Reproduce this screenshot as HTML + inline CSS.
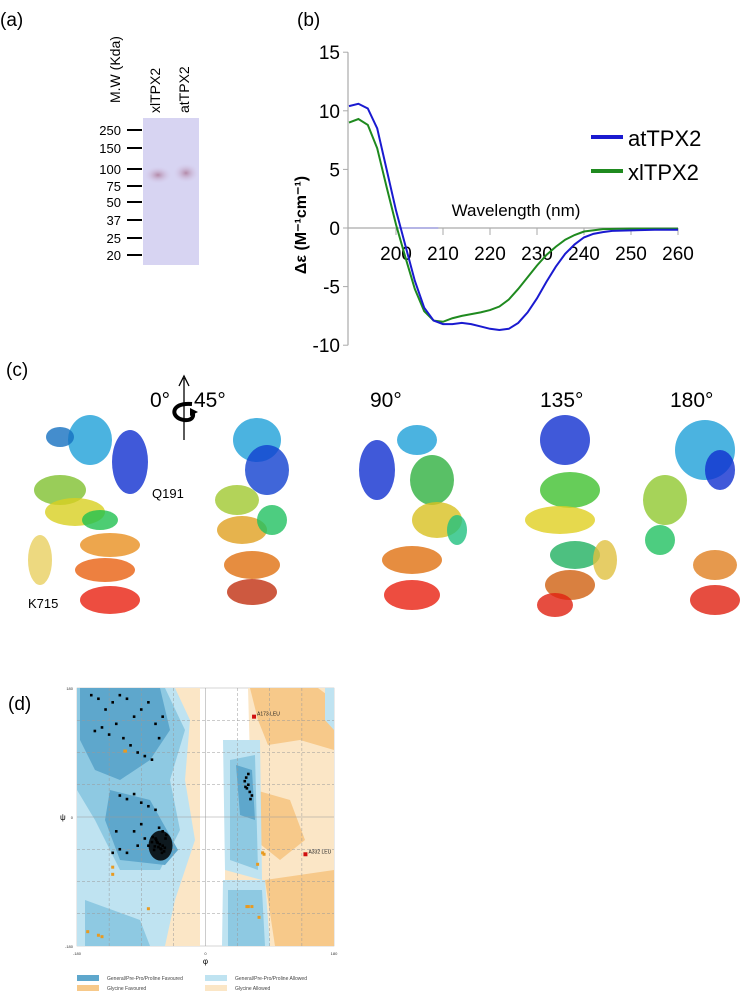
<!DOCTYPE html>
<html><head><meta charset="utf-8">
<style>
html,body{margin:0;padding:0;background:#fff;}
body{width:749px;height:992px;position:relative;overflow:hidden;font-family:"Liberation Sans",sans-serif;}
svg{position:absolute;left:0;top:0;}
</style></head>
<body>
<svg id="fig" width="749" height="992" viewBox="0 0 749 992" xmlns="http://www.w3.org/2000/svg">
  <text x="0" y="26" font-size="19">(a)</text>
  <text x="297" y="26" font-size="19">(b)</text>
  <text x="6" y="376" font-size="19">(c)</text>
  <text x="8" y="710" font-size="19">(d)</text>

  <g id="gel">
    <defs>
      <radialGradient id="band" cx="50%" cy="50%" r="50%">
        <stop offset="0%" stop-color="#b48aa8"/><stop offset="100%" stop-color="#d8d0f0" stop-opacity="0"/>
      </radialGradient>
    </defs>
    <rect x="143" y="118" width="56" height="147" fill="#d7d4f2"/>
    <ellipse cx="158" cy="175" rx="14" ry="9" fill="url(#band)"/>
    <ellipse cx="186" cy="173" rx="13" ry="10" fill="url(#band)"/>
    <text transform="translate(120,103) rotate(-90)" font-size="14">M.W (Kda)</text>
    <text transform="translate(160,113) rotate(-90)" font-size="14">xlTPX2</text>
    <text transform="translate(189,113) rotate(-90)" font-size="14">atTPX2</text>
    <g id="markers" font-size="13" text-anchor="end"></g>
  </g>

  <g id="cd"></g>

  <g id="struct">
    <g id="views"></g>
    <text x="150" y="407" font-size="21">0°</text>
    <text x="194" y="407" font-size="21">45°</text>
    <text x="370" y="407" font-size="21">90°</text>
    <text x="540" y="407" font-size="21">135°</text>
    <text x="670" y="407" font-size="21">180°</text>
    <g>
      <line x1="184" y1="440" x2="184" y2="378" stroke="#000" stroke-width="1.3"/>
      <path d="M179,386 L184,376 L189,386" fill="none" stroke="#000" stroke-width="1.3"/>
      <path d="M192,404 C170,402 170,418 184,420 C192,421 195,416 192,412" fill="none" stroke="#000" stroke-width="4"/>
      <path d="M190,408 L198,412 L190,416 Z" fill="#000"/>
    </g>
    <text x="152" y="498" font-size="13">Q191</text>
    <text x="28" y="608" font-size="13">K715</text>
  </g>

  <g id="rama"></g>
</svg>
<script>
const NS="http://www.w3.org/2000/svg";
function mk(tag,attrs,parent){const e=document.createElementNS(NS,tag);for(const k in attrs)e.setAttribute(k,attrs[k]);parent.appendChild(e);return e;}

/* ---------- Panel a markers ---------- */
const markerLabels=["250","150","100","75","50","37","25","20"];
const markerY=[130,148,169,186,202,220,238,255];
const mg=document.getElementById('markers');
markerLabels.forEach((m,i)=>{
  const t=mk('text',{x:121,y:markerY[i]+5},mg);t.textContent=m;
  
  
  const l=mk('line',{x1:127,x2:142,y1:markerY[i],y2:markerY[i],stroke:'#000','stroke-width':2},mg);
  
  
});

/* ---------- Panel b: CD data ---------- */
const wlAt=[190,192,194,196,198,200,201,202,204,206,208,210,212,214,216,218,220,222,224,226,228,230,232,234,236,238,240,242,244,246,250,255,260];
const cdAt=[10.4,10.6,10.2,8.5,5.0,1.5,0,-1.5,-4.5,-6.8,-7.9,-8.2,-8.2,-8.1,-8.2,-8.4,-8.6,-8.7,-8.6,-8.1,-7.2,-6.0,-4.6,-3.3,-2.2,-1.4,-0.8,-0.5,-0.35,-0.25,-0.2,-0.15,-0.15];
const wlXl=[190,192,194,196,198,200,202,204,206,208,210,212,214,216,218,220,222,224,226,228,230,232,234,236,238,240,244,250,260];
const cdXl=[9.0,9.3,8.8,6.8,3.5,0.3,-2.5,-5.2,-7.1,-7.9,-8.0,-7.7,-7.5,-7.35,-7.2,-7.0,-6.7,-6.1,-5.2,-4.2,-3.2,-2.3,-1.6,-1.0,-0.6,-0.3,-0.1,-0.05,-0.05];
const xTicks=[200,210,220,230,240,250,260];
const yTicks=[15,10,5,0,-5,-10];
const seriesNames=["atTPX2","xlTPX2"];

const X=w=>349+(w-190)*4.7;
const Y=v=>228-v*11.72;
const cd=document.getElementById('cd');
const yax=mk('line',{x1:348,x2:348,y1:Y(15),y2:Y(-10),stroke:'#aaa','stroke-width':1.2},cd);


const xax=mk('line',{x1:348,x2:X(260),y1:Y(0),y2:Y(0),stroke:'#aaa','stroke-width':1.2},cd);


const zl=mk('line',{x1:X(200),x2:X(209),y1:Y(0),y2:Y(0),stroke:'#8080e0','stroke-width':1},cd);


yTicks.forEach(v=>{
  const l=mk('line',{x1:343,x2:348,y1:Y(v),y2:Y(v),stroke:'#aaa'},cd);
  
  
  const t=mk('text',{x:340,y:Y(v)+7,'font-size':19,'text-anchor':'end'},cd);t.textContent=v;
  
  
});
xTicks.forEach(w=>{
  const l=mk('line',{x1:X(w),x2:X(w),y1:Y(0),y2:Y(0)+7,stroke:'#aaa'},cd);
  
  
  const t=mk('text',{x:X(w),y:Y(0)+32,'font-size':19,'text-anchor':'middle'},cd);t.textContent=w;
  
  
});
const xt=mk('text',{x:516,y:216,'font-size':17,'text-anchor':'middle'},cd);xt.textContent='Wavelength (nm)';


const yt=mk('text',{transform:'translate(306,225) rotate(-90)','font-size':16,'font-weight':'bold','text-anchor':'middle'},cd);
yt.textContent='Δε (M⁻¹cm⁻¹)';


function drawSeries(ws,vs,col,name){
  const p=mk('polyline',{points:ws.map((w,i)=>X(w)+','+Y(vs[i])).join(' '),fill:'none',stroke:col,'stroke-width':2},cd);
  
  
}
drawSeries(wlXl,cdXl,'#1f8a1f','series-xltpx2');
drawSeries(wlAt,cdAt,'#1a1ad0','series-attpx2');
const legCols=['#1a1ad0','#1f8a1f'];
seriesNames.forEach((n,i)=>{
  const y=137+i*34;
  const l=mk('line',{x1:591,x2:623,y1:y,y2:y,stroke:legCols[i],'stroke-width':4},cd);
  
  
  const t=mk('text',{x:628,y:y+9,'font-size':22},cd);t.textContent=n;
  
  
});

/* ---------- Panel c: schematic structure views ---------- */
const viewCenters=[95,262,412,570,690];
const views=document.getElementById('views');
const blobs=[
 [[-5,440,22,25,'#1ea0d8'],[35,462,18,32,'#1030d0'],[-35,437,14,10,'#1570c0'],[-35,490,26,15,'#80c030'],[-20,512,30,14,'#d8d020'],[5,520,18,10,'#20c050'],[15,545,30,12,'#e89020'],[10,570,30,12,'#e86010'],[15,600,30,14,'#e82010'],[-55,560,12,25,'#e8d060']],
 [[-5,440,24,22,'#1ea0d8'],[5,470,22,25,'#1040d0'],[-25,500,22,15,'#a0c830'],[-20,530,25,14,'#e0a020'],[-10,565,28,14,'#e07010'],[-10,592,25,13,'#c03010'],[10,520,15,15,'#20c060']],
 [[-35,470,18,30,'#1030d0'],[5,440,20,15,'#1ea0d8'],[20,480,22,25,'#30b040'],[25,520,25,18,'#d8c020'],[0,560,30,14,'#e07010'],[0,595,28,15,'#e82010'],[45,530,10,15,'#20c080']],
 [[-5,440,25,25,'#1030d0'],[0,490,30,18,'#40c030'],[-10,520,35,14,'#e0d020'],[5,555,25,14,'#20b060'],[0,585,25,15,'#d06010'],[-15,605,18,12,'#e02010'],[35,560,12,20,'#e0c040']],
 [[15,450,30,30,'#1ea0d8'],[30,470,15,20,'#1030d0'],[-25,500,22,25,'#90c830'],[-30,540,15,15,'#20c060'],[25,565,22,15,'#e08020'],[25,600,25,15,'#e02010']]
];
viewCenters.forEach((cx,vi)=>{
  const g=mk('g',{},views);
  
  
  blobs[vi].forEach(b=>{
    mk('ellipse',{cx:cx+b[0],cy:b[1],rx:b[2],ry:b[3],fill:b[4],'fill-opacity':0.8},g);
  });
});

/* ---------- Panel d: Ramachandran ---------- */
const favPhi=[-160,-150,-140,-130,-120,-110,-100,-90,-80,-70,-60,-155,-145,-135,-125,-115,-105,-95,-85,-75,-65,-120,-110,-100,-90,-80,-70,-65,-60,-55,-70,-75,-80,-85,-90,-95,-100,-110,-120,-60,-62,-64,-66,-68,-58,-56,-72,-74,-63,-67,-61,-69,-57,-71,-130,-125,55,60,58,62,65,57,63,60,56];
const favPsi=[170,165,150,160,170,165,140,150,160,130,140,120,125,115,130,110,100,90,85,80,110,30,25,32,20,15,10,-15,-20,-25,-30,-35,-40,-30,-10,-40,-20,-50,-45,-40,-45,-38,-42,-35,-48,-30,-46,-28,-44,-36,-50,-32,-43,-41,-50,-20,50,45,40,35,30,55,25,60,42];
const glyPhi=[-112,-113,-130,-130,-80,-165,-150,-145,80,82,73,60,65,58,75];
const glyPsi=[92,92,-70,-80,-128,-160,-165,-167,-50,-52,-66,-125,-125,-125,-140];
const outPhi=[68,140];
const outPsi=[140,-52];
const outLabels=["A173 LEU","A332 LEU"];
const PX=p=>77+(p+180)*257/360;
const PY=s=>946-(s+180)*258/360;
const rama=document.getElementById('rama');
const bg=mk('rect',{x:77,y:688,width:257,height:258,fill:'#fff',stroke:'#aaa','stroke-width':0.5},rama);


const regions=[
 ['#fbe6c6','M160,688 L200,688 L200,946 L150,946 Z M248,688 L334,688 L334,946 L225,946 L225,860 L250,840 L250,760 Z'],
 ['#f7c98a','M250,688 L318,688 L334,700 L334,750 L300,740 L268,745 L258,720 Z M255,790 L290,800 L305,840 L280,860 L255,840 Z M265,880 L334,870 L334,946 L275,946 Z M77,880 L110,890 L120,946 L77,946 Z'],
 ['#bfe3f1','M77,688 L175,688 L190,720 L185,780 L195,840 L175,900 L165,946 L77,946 Z M223,740 L260,740 L262,880 L225,870 Z M223,880 L265,880 L270,946 L222,946 Z M325,688 L334,688 L334,730 L325,720 Z'],
 ['#8ec9e2','M77,688 L165,688 L185,730 L170,780 L180,830 L160,870 L120,870 L95,820 L77,790 Z M230,760 L255,755 L258,870 L230,860 Z M228,890 L262,890 L265,946 L228,946 Z M85,900 L140,920 L150,946 L85,946 Z'],
 ['#5ea7cc','M80,688 L160,688 L170,730 L150,760 L120,780 L95,770 L80,740 Z M110,790 L150,800 L178,850 L165,865 L120,860 L105,820 Z M236,765 L252,770 L255,820 L240,815 Z']
];
regions.forEach((r,i)=>{
  const p=mk('path',{d:r[1],fill:r[0]},rama);
  
  
});
[-135,-90,-45,0,45,90,135].forEach(v=>{
  const a=mk('line',{x1:PX(v),x2:PX(v),y1:688,y2:946,stroke:'#999','stroke-width':0.5,'stroke-dasharray':v===0?'none':'3,2'},rama);
  
  
  const b=mk('line',{x1:77,x2:334,y1:PY(v),y2:PY(v),stroke:'#999','stroke-width':0.5,'stroke-dasharray':v===0?'none':'3,2'},rama);
  
  
});
favPhi.forEach((p,i)=>{
  const r=mk('rect',{x:PX(p)-1.3,y:PY(favPsi[i])-1.3,width:2.6,height:2.6,fill:'#000'},rama);
  
  
});
const cl=mk('ellipse',{cx:PX(-63),cy:PY(-40),rx:12,ry:15,fill:'#000','fill-opacity':0.85},rama);


glyPhi.forEach((p,i)=>{
  const r=mk('rect',{x:PX(p)-1.5,y:PY(glyPsi[i])-1.5,width:3,height:3,fill:'#e89a20'},rama);
  
  
});
outPhi.forEach((p,i)=>{
  const r=mk('rect',{x:PX(p)-2,y:PY(outPsi[i])-2,width:4,height:4,fill:'#d01010'},rama);
  
  
  const t=mk('text',{x:PX(p)+3,y:PY(outPsi[i])-1,'font-size':5,fill:'#222'},rama);t.textContent=outLabels[i];
  
  
});
[["-180",PX(-180),955],["0",PX(0),955],["180",PX(180),955]].forEach(a=>{
  const t=mk('text',{x:a[1],y:a[2],'font-size':4,'text-anchor':'middle',fill:'#333'},rama);t.textContent=a[0];
  
  
});
[["180",688],["0",PY(0)],["-180",946]].forEach(a=>{
  const t=mk('text',{x:73,y:a[1]+2,'font-size':4,'text-anchor':'end',fill:'#333'},rama);t.textContent=a[0];
  
  
});
const phiT=mk('text',{x:PX(0),y:964,'font-size':8,'text-anchor':'middle'},rama);phiT.textContent='φ';


const psiT=mk('text',{x:60,y:PY(0)+3,'font-size':8},rama);psiT.textContent='ψ';


const legendItems=[["General/Pre-Pro/Proline Favoured",77,975,'#5ea7cc'],["General/Pre-Pro/Proline Allowed",205,975,'#bfe3f1'],["Glycine Favoured",77,985,'#f7c98a'],["Glycine Allowed",205,985,'#fbe6c6']];
legendItems.forEach(it=>{
  const r=mk('rect',{x:it[1],y:it[2],width:22,height:6,fill:it[3]},rama);
  
  
  const t=mk('text',{x:it[1]+30,y:it[2]+5,'font-size':5,fill:'#444'},rama);t.textContent=it[0];
  
  
});
</script>
</body></html>
